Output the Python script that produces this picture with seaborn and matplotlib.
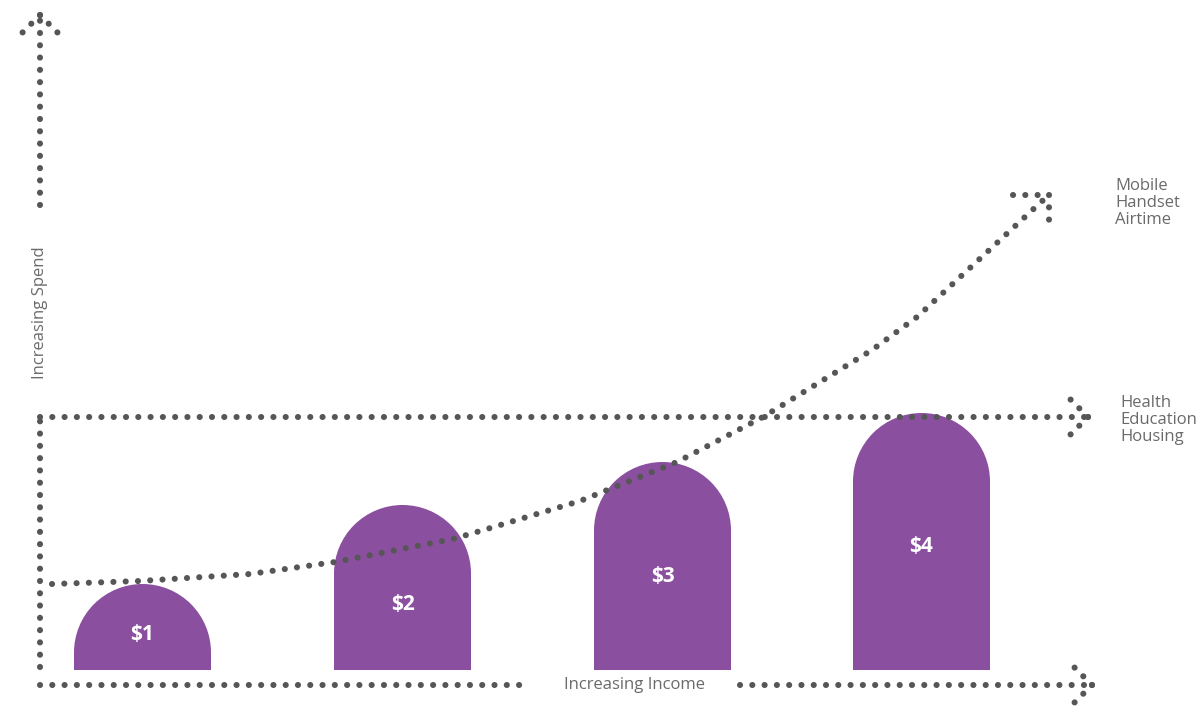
import matplotlib
matplotlib.use("Agg")
import matplotlib.pyplot as plt
from matplotlib.patches import Wedge
import pandas as pd
import seaborn as sns

# bars: income position, total spend height (picture units, baseline = 0)
labels = ["$1", "$2", "$3", "$4"]
income = [142.5, 402.5, 662.5, 921.5]
spend = [86, 165, 208, 257]
bar_width = 137

# dotted growth curve (income, spend)
curve_x = [52, 140, 250, 335, 453, 487, 580, 677, 763, 872, 917, 1040, 1049]
curve_y = [86, 89, 96, 108, 131, 141, 169, 208, 253, 320, 353, 467, 475]

# category labels on the right
top_label = "Mobile\nHandset\nAirtime"
mid_label = "Health\nEducation\nHousing"

PURPLE = "#8b4f9f"
DOTC = "#565656"
TEXTC = "#6a6a6a"

sns.set_theme(style="white")
plt.rcParams["font.family"] = ["Open Sans", "DejaVu Sans"]

fig = plt.figure(figsize=(12.02, 7.09), dpi=100)
ax = fig.add_axes([0, 0, 1, 1])

radius = bar_width / 2
# rectangle part slightly taller so it tucks under the round top
df = pd.DataFrame({"income": income, "rect": [s - radius + 1 for s in spend]})
spacing = min(b - a for a, b in zip(income[:-1], income[1:]))
sns.barplot(data=df, x="income", y="rect", native_scale=True,
            width=bar_width / spacing, color=PURPLE, saturation=1,
            edgecolor="none", linewidth=0, ax=ax, zorder=2)

# round tops
for x, s in zip(income, spend):
    ax.add_patch(Wedge((x, s - radius), radius, 0, 180, facecolor=PURPLE,
                       edgecolor="none", zorder=2))

for i, (x, lab) in enumerate(zip(income, labels)):
    ax.text(x, 36 + 29 * i, lab, color="white", fontsize=15,
            fontweight="bold", ha="center", va="center", zorder=4)

DOT = dict(color=DOTC, lw=4.4, linestyle=(0, (0.01, 2.0)),
           dash_capstyle="round", solid_capstyle="round", zorder=3)


def dotted(xs, ys):
    ax.plot(xs, ys, **DOT)


# vertical axis (spend)
dotted([40, 40], [3, 255])
dotted([40, 40], [465, 655])
dotted([40, 14], [655, 629])
dotted([40, 66], [655, 629])

# horizontal axis (income)
dotted([40, 530], [-15, -15])
dotted([740, 1092], [-15, -15])
dotted([1092, 1066], [-15, 11])
dotted([1092, 1066], [-15, -41])

# health / education / housing line
dotted([40, 1088], [253, 253])
dotted([1088, 1064], [253, 277])
dotted([1088, 1064], [253, 229])

# curve and its arrow
ax.plot(curve_x, curve_y, **DOT)
dotted([1013, 1049], [475, 475])
dotted([1049, 1049], [475, 439])

ax.text(40, 357, "Increasing Spend", rotation=90, color=TEXTC, fontsize=12,
        ha="center", va="center")
ax.text(634, -15, "Increasing Income", color=TEXTC, fontsize=12,
        ha="center", va="center")
ax.text(1115, 467, top_label, color=TEXTC, fontsize=12, ha="left",
        va="center", linespacing=1.05)
ax.text(1120, 250, mid_label, color=TEXTC, fontsize=12, ha="left",
        va="center", linespacing=1.05)

ax.set_xlim(0, 1202)
ax.set_ylim(-39, 670)
ax.set_aspect("equal")
ax.axis("off")

fig.savefig("out.png", dpi=100, facecolor="white")
